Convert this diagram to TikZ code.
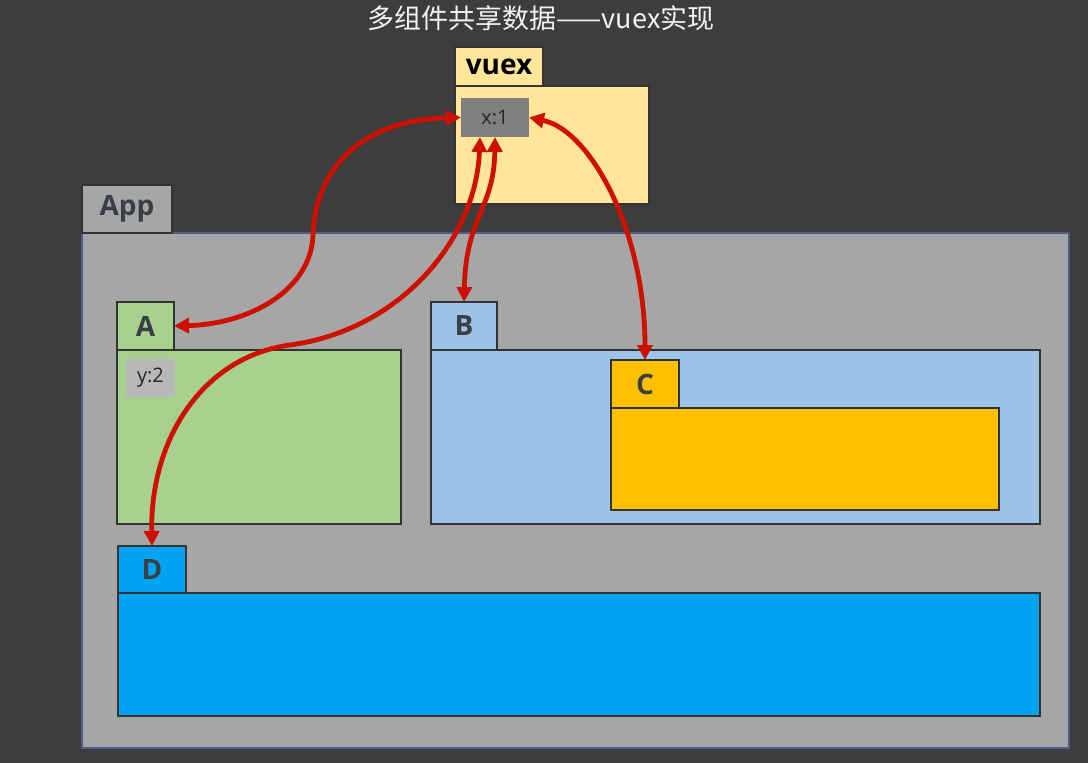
\documentclass[tikz,border=0pt]{standalone}
\usepackage{fontspec}
\setmainfont{Open Sans}
\newfontfamily\cjkfont{Noto Sans CJK SC}
\usetikzlibrary{arrows.meta}
\definecolor{bgc}{HTML}{3D3D3D}
\definecolor{titlec}{HTML}{F2F2F2}
\definecolor{edgec}{HTML}{333333}
\definecolor{appc}{HTML}{A6A6A6}
\definecolor{appedge}{HTML}{4F5B8C}
\definecolor{vuexc}{HTML}{FFE699}
\definecolor{xonec}{HTML}{7F7F7F}
\definecolor{ytwoc}{HTML}{B8B8B8}
\definecolor{acol}{HTML}{A9D18E}
\definecolor{bcol}{HTML}{9DC3E6}
\definecolor{ccol}{HTML}{FFC000}
\definecolor{dcol}{HTML}{00A4F2}
\definecolor{labc}{HTML}{3A3F45}
\definecolor{valc}{HTML}{262626}
\definecolor{arrowc}{RGB}{205,16,0}
\newcommand{\labfont}{\bfseries\fontsize{28}{30}\selectfont}
\newcommand{\smallfont}{\fontsize{20}{24}\selectfont}
\begin{document}
\begin{tikzpicture}[x=1pt,y=-1pt,
  box/.style={draw=edgec, line width=1.1pt, inner sep=0pt, outer sep=0pt, anchor=north west},
  tablabel/.style={box, font=\labfont, text=labc},
  valbox/.style={inner sep=0pt, outer sep=0pt, anchor=north west, font=\smallfont, text=valc},
  link/.style={draw=arrowc, line width=4.8pt,
    {Triangle[length=15pt,width=15pt]}-{Triangle[length=15pt,width=15pt]}}]
\fill[bgc] (0,0) rectangle (1088,763);
\useasboundingbox (0,0) rectangle (1088,763);
% title
\node[font=\cjkfont\fontsize{27}{30}\selectfont, text=titlec] (title) at (541,18) {多组件共享数据——vuex实现};
% vuex
\node[box, fill=vuexc, minimum width=194pt, minimum height=118pt] (vuexbody) at (455,86) {};
\node[tablabel, fill=vuexc, minimum width=88pt, minimum height=39pt, text=black] (vuextab) at (455,47) {vuex};
\node[valbox, fill=xonec, minimum width=68pt, minimum height=39pt] (x1) at (461,98) {x:1};
% App
\node[box, draw=appedge, fill=appc, minimum width=987pt, minimum height=515pt] (appbody) at (82,233) {};
\node[tablabel, fill=appc, minimum width=90pt, minimum height=48pt] (apptab) at (82,185) {App};
% A
\node[box, fill=acol, minimum width=284pt, minimum height=174pt] (abody) at (117,350) {};
\node[tablabel, fill=acol, minimum width=57pt, minimum height=48pt] (atab) at (117,302) {A};
\node[valbox, fill=ytwoc, minimum width=49pt, minimum height=38pt] (y2) at (126,359) {y:2};
% B
\node[box, fill=bcol, minimum width=609pt, minimum height=174pt] (bbody) at (431,350) {};
\node[tablabel, fill=bcol, minimum width=66pt, minimum height=48pt] (btab) at (431,302) {B};
% C
\node[box, fill=ccol, minimum width=388pt, minimum height=102pt] (cbody) at (611,408) {};
\node[tablabel, fill=ccol, minimum width=68pt, minimum height=48pt] (ctab) at (611,360) {C};
% D
\node[box, fill=dcol, minimum width=922pt, minimum height=123pt] (dbody) at (118,593) {};
\node[tablabel, fill=dcol, minimum width=68pt, minimum height=47pt] (dtab) at (118,546) {D};
% connectors
\draw[link] (x1.west) .. controls (360,120) and (315,170) .. (313,235)
  .. controls (311,290) and (250,324) .. (atab.east);
\draw[link] ([xshift=-15pt]x1.south) .. controls (476,240) and (400,330) .. (290,345)
  .. controls (202,357) and (150,440) .. (dtab.north);
\draw[link] (x1.south) .. controls (494,210) and (466,215) .. (btab.north);
\draw[link] (x1.east) .. controls (590,130) and (645,230) .. (ctab.north);
\end{tikzpicture}
\end{document}
